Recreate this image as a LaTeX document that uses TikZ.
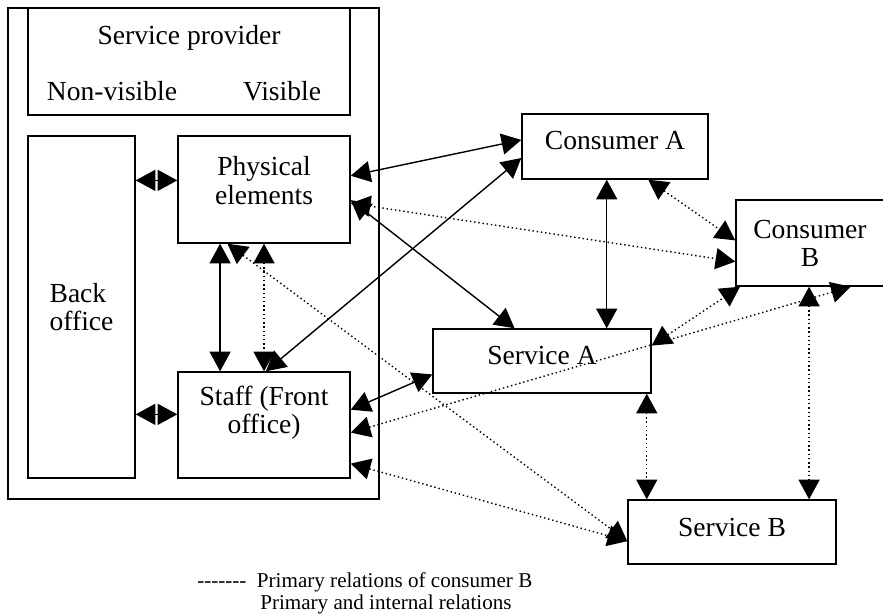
\documentclass[tikz,border=0pt]{standalone}
\usepackage{fontspec}
\setmainfont{Liberation Serif}
\usetikzlibrary{arrows.meta}

\begin{document}
\begin{tikzpicture}[x=0.025cm, y=-0.025cm,
        box/.style={draw, line width=1pt, inner sep=0pt, align=center, font=\fontsize{19.6}{20}\selectfont},
        txt/.style={inner sep=0pt, font=\fontsize{19.6}{20}\selectfont},
        legend/.style={inner sep=0pt, anchor=west, font=\fontsize{15}{15.6}\selectfont},
        >={Triangle[length=14pt,width=15pt]},
        rel/.style={<->, line width=1pt},
        relB/.style={<->, line width=1pt, dotted}]
        \useasboundingbox (0,0) rectangle (883,615);

        \node[box, minimum width=9.275cm, minimum height=12.275cm] (prov) at (193.5,253.5) {};
        \node[box, minimum width=8.05cm, minimum height=2.675cm] (head) at (189,61.5) {};
        \node[txt] (sp) at (189,38) {Service provider};
        \node[txt] (nonvis) at (112,91) {Non-visible};
        \node[txt] (vis) at (282,91) {Visible};

        \node[box, align=left, minimum width=2.675cm, minimum height=8.55cm] (back) at (81.5,307) {Back\\office};
        \node[box, minimum width=4.3cm, minimum height=2.675cm, text depth=12.8pt] (phys) at (264,189.5) {Physical\\elements};
        \node[box, minimum width=4.3cm, minimum height=2.65cm, text depth=21pt] (staff) at (264,425) {Staff (Front\\office)};

        \node[box, minimum width=4.65cm, minimum height=1.625cm, text depth=8pt] (consA) at (615,146.5) {Consumer A};
        \node[box, minimum width=3.7cm, minimum height=2.15cm] (consB) at (810,243) {Consumer\\B};
        \node[box, minimum width=5.45cm, minimum height=1.6cm, text depth=8pt] (servA) at (542,361) {Service A};
        \node[box, minimum width=5.2cm, minimum height=1.6cm, text depth=7pt] (servB) at (732,532) {Service B};

        \node[legend] (legB) at (197,582) {-{}-{}-{}-{}-{}-{}-\enspace Primary relations of consumer B};
        \node[legend] (legA) at (260,604) {Primary and internal relations};

        \draw[rel] (back.east |- phys.174) -- (phys.174);
        \draw[rel] (back.east |- staff.173) -- (staff.173);
        \draw[rel] (phys.231) -- (phys.231 |- staff.north);
        \draw[rel] (phys.9) -- (consA.176);
        \draw[rel] (phys.353) -- (servA.130);
        \draw[rel] (staff.88) -- (consA.187);
        \draw[rel] (staff.10) -- (servA.187);
        \draw[rel] (consA.256) -- (consA.256 |- servA.north);

        \draw[relB] (phys.270) -- (phys.270 |- staff.north);
        \draw[relB] (phys.236) -- (servB.185);
        \draw[relB] (phys.351) -- (consB.194);
        \draw[relB] (consA.315) -- (consB.178);
        \draw[relB] (servA.8) -- (consB.212);
        \draw[relB] (staff.355) -- (consB.313);
        \draw[relB] (staff.336) -- (servB.185);
        \draw[relB] (servB.159 |- servA.south) -- (servB.159);
        \draw[relB] (servB.23 |- consB.south) -- (servB.23);
\end{tikzpicture}
\end{document}
